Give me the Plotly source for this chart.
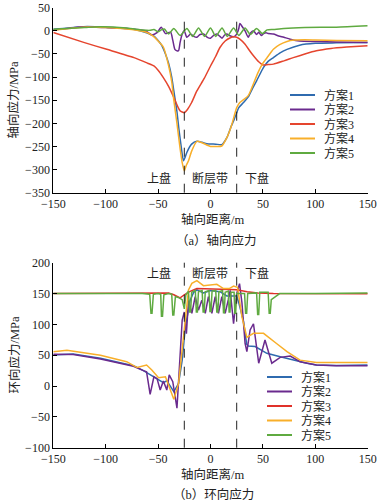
import plotly.graph_objects as go

# ---------------- (a) axial stress ----------------
ax_x1 = [-150,-135,-121,-100,-80,-70,-61,-55,-51,-47,-43,-40,-37,-35,-32,-30,-28,-25.8,-24,-22.6,-18,-13,-8,-3.5,5,10.8,15.6,20,22,25,27,31.5,36,40,44,50.6,55,60,66,73,85,100,120,150]
ax_y1 = [3.6,6,9,8,5,2,-4,-10,-18,-30,-50,-70,-100,-130,-175,-215,-250,-281,-272,-263,-245,-239,-241,-244,-245,-246,-231,-205,-195,-177,-166,-155,-143,-125,-108,-79,-66,-58,-48,-40,-31,-27,-26,-25]

ax_x2 = [-150,-121,-100,-80,-65,-61,-56,-51,-47,-43,-40,-38,-36,-34,-32,-30.5,-29,-27,-25,-22.6,-19,-16,-13,-10,-6.7,-3,0,3,6,9,11,13.5,15.6,18,22,25,27,28,30,33,36,38,41,44,46,48.5,50.6,53,55,60,65,70,76,85,101,120,150]
ax_y2 = [1.4,8.6,7,5,1,-1.4,-9,-4,8,-6,-4,-3,-20,-40,-43,-43,-25,-7,0,-14,-7,-12,-14,-8,-7,-14,-16,-10,-7,-12,-16,-9,-7,-10,-13,-7,5,16,10,0,-14,-5,0,-8,-3,-10,-6,-4,-6,-7,-11,-14,-18,-22,-23,-24,-25]

ax_x3 = [-150,-121,-99,-73,-60,-54,-50,-45,-40,-35,-31,-29,-25,-22,-18,-13,-6,0,5,9,14,19,22,25,28,33,37,41,46,50,55,60,70,79,90,101,115,130,150]
ax_y3 = [-3.6,-25,-40,-58,-70,-76,-85,-101,-120,-144,-165,-173,-177,-170,-155,-130,-103,-76,-55,-36,-22,-15,-13,-14,-18,-29,-42,-54,-67,-74,-73,-72,-65,-58,-50,-43,-38,-35,-32]

ax_x4 = [-150,-135,-121,-100,-80,-70,-61,-55,-50,-45,-40,-37,-35,-32,-29,-27,-25,-23,-21,-18,-13,-8,0,5,10.8,15.6,20,25,28,32,36,40,45,50,55,60,66,73,80,90,100,120,150]
ax_y4 = [1.4,5,8,7,4,1,-3,-11,-22,-35,-75,-110,-150,-200,-255,-285,-303,-290,-281,-260,-239,-242,-250,-250,-249,-231,-205,-166,-155,-148,-140,-120,-92,-70,-55,-40,-30,-23,-20,-19.5,-20,-21,-21.6]

ax_x5 = [-150,-120,-105,-80,-65,-58,-54,-50,-47,-44,-40,-35,-29,-22.5,-17,-11.4,-5.7,0,5,11,16,22,27,33,38,44,49.5,54,60,70,90,120,150]
ax_y5 = [3.6,7,8.6,6,2,1,3,-2,2,4,-7,5,-10,5,-12,6,-12,6,-12,6,-12,6,-10,6,-8,5,-6,2,3,5,7,8,10.8]

# ---------------- (b) hoop stress ----------------
hp_x1 = [-150,-131,-105,-80,-73.5,-64,-51,-45,-41.7,-38,-35,-30.5,-27,-24,-19.4,-16,-13,-6.7,0,9,15.6,23.5,25,27,31.5,34.5,36,42.6,53.8,66.5,79,92,101,120,150]
hp_y1 = [50.3,52,45,36,33,25,12.4,5.4,8.6,0,-9,4,42,96,139,152,156,151,155,153,146,146,146,135,105,68,65,64,53,47.6,42,37,34,33.5,34]

hp_x2 = [-150,-131,-105,-80,-73.5,-64,-61,-57.6,-54,-51,-48,-45,-41.7,-39.4,-36,-32,-29,-27,-25,-23,-21,-17.8,-14.6,-11.5,-8.3,-5,-2,1.3,4.5,7.6,10.8,14,17,18.8,22,25,27.7,30,33,34.7,37.8,41,46,52,58.5,66.5,76,85.5,101,120,150]
hp_y2 = [51.4,51,44,35,32,25,23,-13.5,15,12,-6.5,8,-6.5,18,7,-36,58,107,120,85,139,118,145,123,139,118,145,118,145,118,145,118,140,155,101,150,166,135,69,55.7,91,101,37,74.6,37,46.5,48.6,39.5,34,33,33]

hp_x3 = [-150,-100,-70,-55,-45,-40,-35,-29,-25,-20,-13,0,10,25,35,45,60,100,150]
hp_y3 = [150,150,150,150,151,151,148,143,148,153,158,157,157,156,153,151,150,150,149.5]

hp_x4 = [-150,-137,-105,-80,-70,-61,-56,-49.6,-43,-38,-35,-30.5,-25.8,-21,-17.8,-13,-6.7,6,12.4,18,22,25.8,30,34.7,41,50.6,63,73,85.5,101,120,150]
hp_y4 = [55.7,58,50,39.5,30,34,26,13.5,15,-6.5,-21.6,4,74.6,155.7,166.5,170.8,162.7,165,158,158,162,160,112,79,85.4,85.4,69,55.7,42,38,38,38]

hp_x5 = [-150,-100,-65,-58,-56.8,-55.8,-54.5,-50,-47.5,-46.8,-45.8,-44.5,-40,-37,-36,-35,-33.5,-30,-27,-25,-23.5,-21,-20,-19,-18,-14.5,-13.5,-12.5,-11.5,-8,-7,-6,-5,-1.5,-0.5,0.5,1.5,5,6,7,8,11.5,12.4,13.2,14,17,17.8,18.6,19.5,22.5,23.2,24,25,32.5,33.5,34.5,35.5,44,45,46,47,55,56,57,58,62,66,100,150]
hp_y5 = [150,150.5,150,149,118,118,149,150,149,113,113,148,150,149,115,115,145,143,140,125,148,154,120,120,152,155,120,120,153,155,120,120,153,155,121,121,154,155,120,120,153,155,119,119,152,154,120,120,152,152,118,118,150,150,118,118,150,151,116,116,152,152,118,118,140,145,150,150,151]

names = ["方案1", "方案2", "方案3", "方案4", "方案5"]
colors_a = ["#2F6BAF", "#6A2A8E", "#E5452E", "#F8AF2A", "#5FAA40"]
colors_b = ["#2F6BAF", "#6A2A8E", "#E0312A", "#F8AF2A", "#5FAA40"]

ax_series = [(ax_x1, ax_y1), (ax_x2, ax_y2), (ax_x3, ax_y3), (ax_x4, ax_y4), (ax_x5, ax_y5)]
hp_series = [(hp_x1, hp_y1), (hp_x2, hp_y2), (hp_x3, hp_y3), (hp_x4, hp_y4), (hp_x5, hp_y5)]

NUMFONT = "Liberation Serif, Noto Sans CJK SC"
TXT = "#222"
W, H = 387, 501
fig = go.Figure()

for i, (xs, ys) in enumerate(ax_series):
    fig.add_trace(go.Scatter(x=xs, y=ys, mode="lines", name=names[i], showlegend=False,
                             line=dict(color=colors_a[i], width=1.5, shape="spline", smoothing=0.6),
                             xaxis="x", yaxis="y"))
for i, (xs, ys) in enumerate(hp_series):
    fig.add_trace(go.Scatter(x=xs, y=ys, mode="lines", name=names[i], showlegend=False,
                             line=dict(color=colors_b[i], width=1.5),
                             xaxis="x2", yaxis="y2"))

x_dom = [53.3 / W, 367.7 / W]
axis_common = dict(showline=True, linecolor="black", linewidth=1, ticks="inside", ticklen=4,
                   tickcolor="black", showgrid=False, zeroline=False, automargin=False,
                   tickfont=dict(family=NUMFONT, size=12, color=TXT))

fig.update_layout(
    template="none",
    width=W, height=H,
    margin=dict(l=0, r=0, t=0, b=0, pad=0, autoexpand=False),
    paper_bgcolor="white", plot_bgcolor="white",
    font=dict(family=NUMFONT, color=TXT),
    showlegend=False,
    xaxis=dict(domain=x_dom, range=[-150, 150], tickvals=[-150, -100, -50, 0, 50, 100, 150],
               anchor="y", **axis_common),
    yaxis=dict(domain=[1 - 192.7 / H, 1 - 7.7 / H], range=[-350, 50], dtick=50,
               anchor="x", **axis_common),
    xaxis2=dict(domain=x_dom, range=[-150, 150], tickvals=[-150, -100, -50, 0, 50, 100, 150],
                anchor="y2", **axis_common),
    yaxis2=dict(domain=[1 - 447.7 / H, 1 - 262.7 / H], range=[-100, 200], dtick=50,
                anchor="x2", **axis_common),
)

# fault-zone boundaries
for xv in [-25, 25]:
    fig.add_shape(type="line", xref="x", yref="y domain", x0=xv, x1=xv, y0=0, y1=0.97,
                  line=dict(color="#222", width=1, dash="dash"))
    fig.add_shape(type="line", xref="x2", yref="y2 domain", x0=xv, x1=xv, y0=0, y1=1,
                  line=dict(color="#222", width=1, dash="dash"))

ann = []
C = dict(xanchor="center", yanchor="middle", showarrow=False)
# zone labels
for xv, t in [(-49, "上盘"), (0, "断层带"), (44, "下盘")]:
    ann.append(dict(x=xv, y=-320, xref="x", yref="y", text=t, font=dict(size=12, color=TXT), **C))
    ann.append(dict(x=xv, y=183, xref="x2", yref="y2", text=t, font=dict(size=12, color=TXT), **C))

# legends (line sample + label), drawn in pixel-based paper coordinates
def add_legend(x_px, y0_px, colors):
    for k, (nm, c) in enumerate(zip(names, colors)):
        yp = 1 - (y0_px + k * 14.5) / H
        fig.add_shape(type="line", xref="paper", yref="paper",
                      x0=x_px / W, x1=(x_px + 25) / W, y0=yp, y1=yp,
                      line=dict(color=c, width=2))
        ann.append(dict(x=(x_px + 32) / W, y=yp, xref="paper", yref="paper", text=nm,
                        xanchor="left", yanchor="middle", showarrow=False,
                        font=dict(size=12, color=TXT)))

add_legend(290, 95, colors_a)
add_legend(267, 377, colors_b)

# axis titles and captions
F = dict(size=12.5, color=TXT)
ann += [
    dict(x=212 / W, y=1 - 219 / H, xref="paper", yref="paper", text="轴向距离/m", font=F, **C),
    dict(x=212 / W, y=1 - 474 / H, xref="paper", yref="paper", text="轴向距离/m", font=F, **C),
    dict(x=13.5 / W, y=1 - 100 / H, xref="paper", yref="paper", text="轴向应力/MPa",
         textangle=-90, font=F, **C),
    dict(x=13.5 / W, y=1 - 355 / H, xref="paper", yref="paper", text="环向应力/MPa",
         textangle=-90, font=F, **C),
    dict(x=216 / W, y=1 - 240 / H, xref="paper", yref="paper", text="（a）轴向应力", font=F, **C),
    dict(x=214 / W, y=1 - 494 / H, xref="paper", yref="paper", text="（b）环向应力", font=F, **C),
]
fig.update_layout(annotations=ann)

fig.write_html("out.html", config={"displayModeBar": False},
               post_script="document.body.style.margin='0';document.body.style.overflow='hidden';")
